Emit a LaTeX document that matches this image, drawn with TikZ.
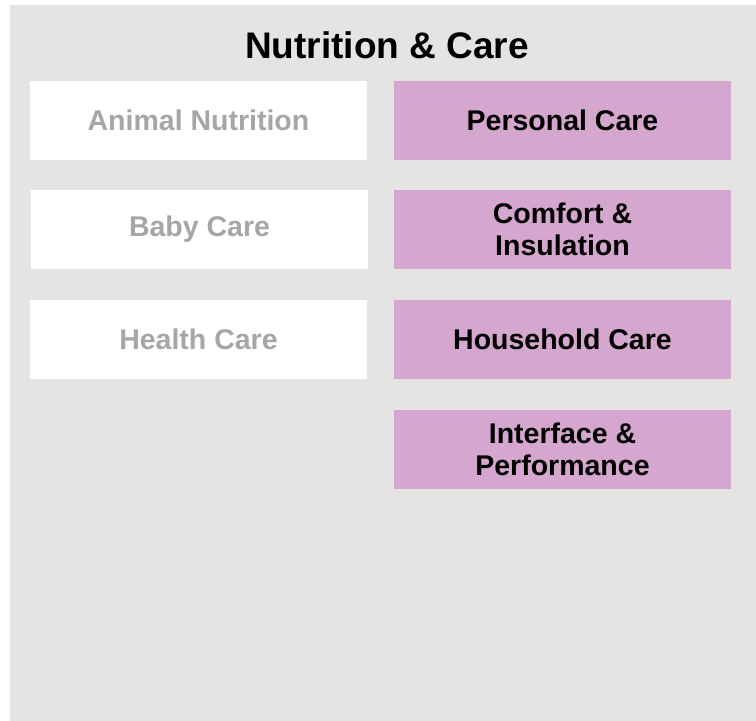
\documentclass[tikz,border=0pt]{standalone}
\usepackage{fontspec}
\setmainfont{Liberation Sans}
\usepackage{tikz}
\definecolor{panelgrey}{HTML}{E6E4E2}
\definecolor{mutedtext}{HTML}{A6A6A6}
\definecolor{careplum}{HTML}{D5A6CE}
\tikzset{
  greybox/.style={fill=white,minimum width=337pt,minimum height=79pt,align=center,text=mutedtext,font=\fontsize{28.5}{32}\selectfont\bfseries},
  pinkbox/.style={fill=careplum,minimum width=337pt,minimum height=79pt,align=center,text=black,font=\fontsize{28.5}{32}\selectfont\bfseries}
}

\begin{document}
\begin{tikzpicture}[x=1pt,y=-1pt]
\useasboundingbox (0,0) rectangle (756,721);
\fill[panelgrey] (10,5) rectangle (756,721);
\draw[] (387,45) node[font=\fontsize{37}{44}\selectfont\bfseries] (title) {Nutrition \& Care};
\draw[] (198.5,120) node[greybox] (animal) {Animal Nutrition};
\draw[] (199.5,229.5) node[greybox] (baby) {Baby Care};
\draw[] (198.5,339.5) node[greybox] (health) {Health Care};
\draw[] (562.5,120) node[pinkbox] (personal) {Personal Care};
\draw[] (562.5,229.5) node[pinkbox] (comfort) {Comfort \&\\Insulation};
\draw[] (562.5,339.5) node[pinkbox] (household) {Household Care};
\draw[] (562.5,449.5) node[pinkbox] (interface) {Interface \&\\Performance};
\end{tikzpicture}
\end{document}
